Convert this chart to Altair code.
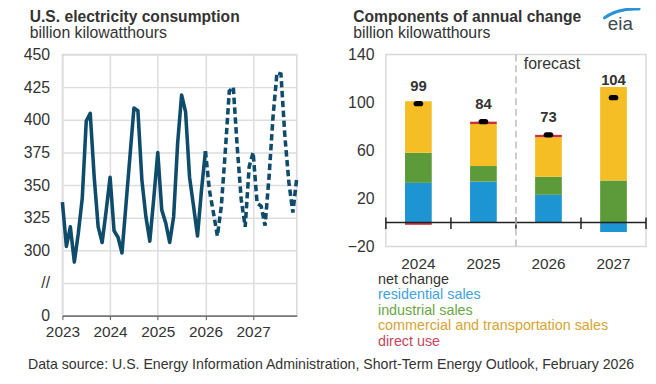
import altair as alt
import pandas as pd

FONT = "Liberation Sans"
TEXT = "#333333"
LINE = "#0f4c6c"
GRID = "#dddddd"

# ---------------- data ----------------
start_year = 2023
consumption = [
    337, 303, 318, 291, 313, 340, 399, 405, 356, 318, 306, 330,  # 2023
    356, 315, 310, 298, 335, 372, 409, 407, 354, 326, 307, 340,  # 2024
    375, 331, 321, 306, 326, 382, 419, 406, 356, 334, 311, 346,  # 2025
    376, 346, 329, 311, 334, 376, 422, 425, 379, 339, 318, 364,  # 2026
    375, 336, 334, 319, 356, 402, 436, 435, 387, 352, 329, 356,  # 2027
]
last_actual = 36  # Jan 2026
year_ticks = [2023, 2024, 2025, 2026, 2027]
y_ticks = [250, 275, 300, 325, 350, 375, 400, 425, 450]

bar_years = ["2024", "2025", "2026", "2027"]
residential = [33, 34, 23, -8]
industrial = [25, 13, 15, 35]
commercial = [43, 35, 33, 78]
direct_use = [-2, 2, 2, 0]
net_change = [99, 84, 73, 104]
components = ["residential sales", "industrial sales",
              "commercial and transportation sales", "direct use"]
component_colors = ["#1d95d3", "#5c9a3a", "#f5be25", "#c8323c"]
legend_labels = ["net change"] + components
legend_colors = ["#333333", "#3fa2dc", "#6aa545", "#d6a432", "#c4475c"]
forecast_year = "2026"
left_title = "U.S. electricity consumption"
right_title = "Components of annual change"
unit_text = "billion kilowatthours"
source_text = ("Data source: U.S. Energy Information Administration, "
               "Short-Term Energy Outlook, February 2026")

one = pd.DataFrame({"a": [0]})


def heading(title, sub):
    t = alt.Chart(one).mark_text(text=title, align="left", baseline="alphabetic",
                                 font=FONT, fontSize=15.8, fontWeight="bold",
                                 color=TEXT).encode(x=alt.value(-33), y=alt.value(-33))
    s = alt.Chart(one).mark_text(text=sub, align="left", baseline="alphabetic",
                                 font=FONT, fontSize=16, color=TEXT).encode(
        x=alt.value(-33), y=alt.value(-16.5))
    return [t, s]


# ---------------- left: monthly consumption ----------------
line_df = pd.DataFrame({
    "t": [start_year + i / 12 for i in range(len(consumption))],
    "v": consumption,
    "i": list(range(len(consumption))),
})

x_left = alt.X(
    "t:Q",
    scale=alt.Scale(domain=[start_year, start_year + (len(consumption) - 1) / 12],
                    nice=False, zero=False),
    axis=alt.Axis(values=year_ticks, format="d", title=None, grid=True,
                  gridColor=GRID, gridWidth=1.5, labelFontSize=15.5,
                  labelColor=TEXT, tickColor="#555555", domainColor="#555555",
                  domainWidth=1.5, tickSize=4, labelPadding=5, labelFlush=False),
)
y_left = alt.Y(
    "v:Q",
    scale=alt.Scale(domain=[250, 450], nice=False, zero=False),
    axis=alt.Axis(values=y_ticks, title=None, ticks=False, domain=False,
                  gridColor=GRID, gridWidth=1.5, labelFontSize=16,
                  labelColor=TEXT, labelPadding=13, minExtent=50, maxExtent=50,
                  labelExpr="datum.value == 250 ? '0' : datum.value == 275 ? '//' : datum.label"),
)
base = alt.Chart(line_df).encode(x=x_left, y=y_left)
hist = base.transform_filter(alt.datum.i <= last_actual).mark_line(
    color=LINE, strokeWidth=3.6, strokeJoin="round")
fcst = base.transform_filter(alt.datum.i >= last_actual).mark_line(
    color=LINE, strokeWidth=3.6, strokeDash=[6.5, 3.5])

left = alt.layer(hist, fcst, *heading(left_title, unit_text)).properties(width=237, height=264)

# ---------------- right: components of annual change ----------------
rows = []
series = [residential, industrial, commercial, direct_use]
for k, (name, col, vals) in enumerate(zip(components, component_colors, series)):
    for yr, v in zip(bar_years, vals):
        rows.append({"year": yr, "component": name, "value": v, "order": k, "color": col})
comp_df = pd.DataFrame(rows)
net_df = pd.DataFrame({"year": bar_years, "net": net_change})
years_df = pd.DataFrame({"year": bar_years})
last_df = pd.DataFrame({"year": [bar_years[-1]]})
fc_df = pd.DataFrame({"year": [forecast_year]})

bars = alt.Chart(comp_df).mark_bar(size=27).encode(
    x=alt.X("year:N", scale=alt.Scale(domain=bar_years, paddingInner=0, paddingOuter=0),
            axis=alt.Axis(title=None, labelAngle=0, ticks=False, domain=False,
                          labelFontSize=15.5, labelColor=TEXT, labelPadding=10)),
    y=alt.Y("value:Q", stack="zero", scale=alt.Scale(domain=[-20, 140], nice=False),
            axis=alt.Axis(values=[-20, 20, 60, 100, 140], title=None, grid=False,
                          ticks=False, domain=False, labelFontSize=16,
                          labelColor=TEXT, labelPadding=12, minExtent=38, maxExtent=38)),
    color=alt.Color("color:N", scale=None, legend=None),
    order=alt.Order("order:Q"),
)
zero = alt.Chart(one).mark_rule(color="#222222", strokeWidth=1.5).encode(y=alt.datum(0))
ticks = alt.Chart(years_df).mark_rule(color="#222222", strokeWidth=1.5).encode(
    x=alt.X("year:N", bandPosition=0, title=None), y=alt.datum(4), y2=alt.datum(-5.5))
end_tick = alt.Chart(last_df).mark_rule(color="#222222", strokeWidth=1.5).encode(
    x=alt.X("year:N", bandPosition=1, title=None), y=alt.datum(4), y2=alt.datum(-5.5))
divider = alt.Chart(fc_df).mark_rule(color="#bdbdbd", strokeWidth=1.5, strokeDash=[7, 4]).encode(
    x=alt.X("year:N", bandPosition=0, title=None))
fc_text = alt.Chart(fc_df).mark_text(text="forecast", align="left", dx=8, baseline="middle",
                                     fontSize=16, font=FONT, color=TEXT).encode(
    x=alt.X("year:N", bandPosition=0, title=None), y=alt.datum(132))
capsule = "M-0.5,-0.6 L0.5,-0.6 A0.6,0.6 0 0 1 0.5,0.6 L-0.5,0.6 A0.6,0.6 0 0 1 -0.5,-0.6 Z"
dots = alt.Chart(net_df).mark_point(shape=capsule, filled=True, size=81, color="#000000",
                                    opacity=1).encode(
    x=alt.X("year:N", title=None), y=alt.Y("net:Q", title=None))
labels = alt.Chart(net_df).mark_text(dy=-18, fontSize=15, fontWeight="bold", font=FONT,
                                     color=TEXT).encode(
    x=alt.X("year:N", title=None), y=alt.Y("net:Q", title=None), text="net:Q")
logo_text = alt.Chart(one).mark_text(text="eia", fontSize=19, font=FONT, color="#3f4a52",
                                     align="center", baseline="alphabetic").encode(
    x=alt.value(237), y=alt.value(-25))
swoosh = "M -1.9 0.4 Q -0.6 -0.6 1.6 -0.5"
logo_arc = alt.Chart(one).mark_point(shape=swoosh, size=400, filled=False, color="#2a93d5",
                                     strokeWidth=3, opacity=1, strokeCap="round").encode(
    x=alt.value(240), y=alt.value(-41))
legend_layers = [
    alt.Chart(one).mark_text(text=lab, color=col, align="left", baseline="middle",
                             fontSize=14.5, font=FONT).encode(
        x=alt.value(-8), y=alt.value(228 + 15.6 * i))
    for i, (lab, col) in enumerate(zip(legend_labels, legend_colors))
]

right = alt.layer(bars, zero, ticks, end_tick, divider, fc_text, dots, labels,
                  logo_text, logo_arc, *legend_layers,
                  *heading(right_title, unit_text)).properties(width=263, height=194)

chart = alt.hconcat(left, right, spacing=42).properties(
    title=alt.TitleParams(source_text, orient="bottom", anchor="start", frame="bounds",
                          font=FONT, fontSize=14.3, fontWeight="normal", color=TEXT,
                          offset=9, dx=16),
    padding={"left": 4, "top": -8, "right": 0, "bottom": 0},
).configure_view(stroke="#d9d9d9", strokeWidth=1.5).configure_axis(
    labelFont=FONT, labelColor=TEXT)

chart.save("out.html", embed_options={"renderer": "svg", "actions": False})
